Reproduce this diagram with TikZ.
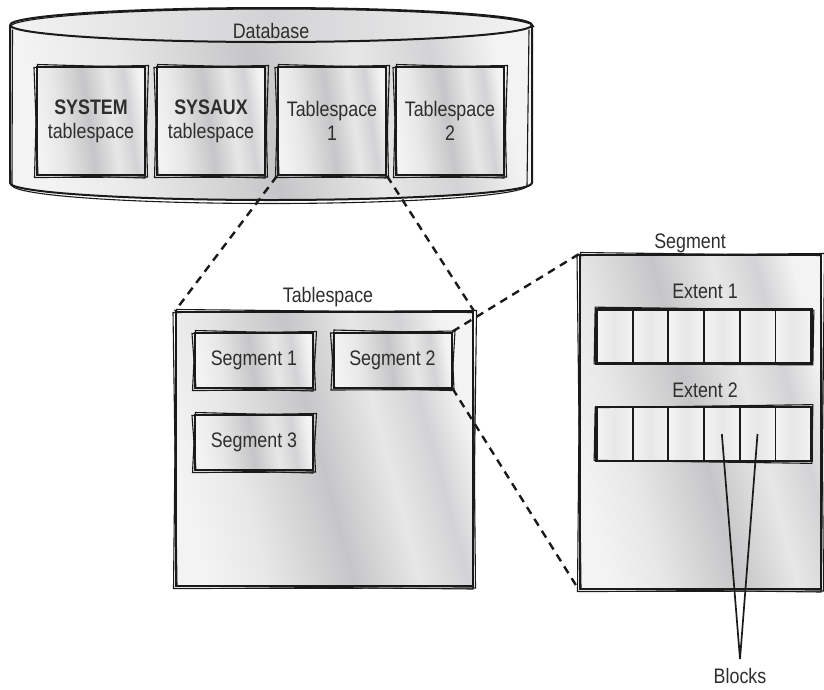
\documentclass[tikz,border=0pt]{standalone}
\usepackage{fontspec}
\setmainfont{Liberation Sans}[FakeStretch=0.85]
\usetikzlibrary{calc}

\definecolor{ink}{HTML}{1A1A1A}
\definecolor{txt}{HTML}{2E2E2E}
\definecolor{shA}{HTML}{F3F3F4}
\definecolor{shB}{HTML}{C6C6C8}
\definecolor{shC}{HTML}{E7E7E8}
\definecolor{shD}{HTML}{D3D3D5}

% brushed-metal style panel fill (TikZ maps 25bp..75bp onto the shape)
\pgfdeclarehorizontalshading{panelshade}{100bp}{%
  color(0bp)=(shA); color(25bp)=(shA); color(35bp)=(shC); color(49bp)=(shB);
  color(60bp)=(shC); color(68bp)=(shD); color(75bp)=(shA); color(100bp)=(shA)}
\pgfdeclarehorizontalshading{cellshade}{100bp}{%
  color(0bp)=(shA); color(25bp)=(shA); color(50bp)=(shC); color(75bp)=(shA); color(100bp)=(shA)}
\pgfdeclarehorizontalshading{capshade}{100bp}{%
  color(0bp)=(shA); color(25bp)=(shA); color(50bp)=(shD); color(75bp)=(shA); color(100bp)=(shA)}

\tikzset{
  txtfont/.style={font=\fontsize{21}{24}\selectfont, text=txt},
  panel/.style={draw=ink, line width=2pt, shading=panelshade, shading angle=8,
    inner sep=2pt, align=center, txtfont},
  tsbox/.style={panel, minimum width=108pt, minimum height=108pt},
  segbox/.style={panel, minimum width=118pt, minimum height=55pt},
  bigbox/.style={panel, shading angle=15},
  cell/.style={draw=ink, line width=1.7pt, shading=cellshade,
    minimum width=35.67pt, minimum height=53pt, inner sep=0pt},
  caption/.style={txtfont, anchor=base, inner sep=0pt},
  roughline/.style={draw=ink, line width=1.1pt, line cap=round},
  link/.style={draw=ink, line width=2.4pt, dash pattern=on 8pt off 6pt},
  pointer/.style={draw=ink, line width=1.7pt},
}

% second, slightly displaced pen stroke around a node
\newcommand\roughbox[1]{%
  \draw[roughline] ([shift={(-2,1.5)}]#1.north west) -- ([shift={(2.5,-0.5)}]#1.north east)
    -- ([shift={(-1,2)}]#1.south east) -- ([shift={(2,-1)}]#1.south west) -- cycle;
  \draw[roughline] ([shift={(1.5,-1.5)}]#1.north west) -- ([shift={(-1,1.5)}]#1.north east)
    -- ([shift={(1.5,1)}]#1.south east) -- ([shift={(-1.5,1.5)}]#1.south west) -- cycle;}

\begin{document}
\begin{tikzpicture}[x=1pt,y=-1pt]
\useasboundingbox (0,0) rectangle (824,689);

% ---- Database cylinder ----
\path[shading=panelshade, shading angle=12]
  (10,25) -- (10,183) arc[start angle=180, end angle=360, x radius=261pt, y radius=17pt]
  -- (532,25) arc[start angle=0, end angle=180, x radius=261pt, y radius=17pt] -- cycle;
\path[shading=capshade] (271,25) ellipse[x radius=261pt, y radius=17pt];
\draw[ink, line width=2pt, line join=round]
  (10,25) -- (10,183) arc[start angle=180, end angle=360, x radius=261pt, y radius=17pt]
  -- (532,25) arc[start angle=0, end angle=180, x radius=261pt, y radius=17pt];
\draw[ink, line width=2pt] (10,25) arc[start angle=180, end angle=360, x radius=261pt, y radius=17pt];
\draw[roughline] (12.5,30) -- (12,186);
\draw[roughline] (529,30) -- (527,186);
\draw[roughline] (12,185) arc[start angle=180, end angle=360, x radius=258pt, y radius=18.5pt];
\draw[roughline] (10,27) arc[start angle=180, end angle=0, x radius=262pt, y radius=18pt];
\node[caption] (db) at (271,38) {Database};

\node[tsbox] (sys) at (91,121)  {\textbf{SYSTEM}\\tablespace};
\node[tsbox] (aux) at (211,121) {\textbf{SYSAUX}\\tablespace};
\node[tsbox] (ts1) at (332,121) {Tablespace\\1};
\node[tsbox] (ts2) at (450,121) {Tablespace\\2};
\foreach \n in {sys,aux,ts1,ts2} {\roughbox{\n}}

% ---- Tablespace detail ----
\node[caption] (tslabel) at (328,302) {Tablespace};
\node[bigbox, minimum width=297pt, minimum height=274pt] (tsp) at (324.5,449) {};
\roughbox{tsp}
\node[segbox] (seg1) at (254,360.5) {Segment 1};
\node[segbox] (seg2) at (392.5,360) {Segment 2};
\node[segbox] (seg3) at (254,442.5) {Segment 3};
\foreach \n in {seg1,seg2,seg3} {\roughbox{\n}}

% ---- Segment detail ----
\node[caption] (seglabel) at (690,248) {Segment};
\node[bigbox, minimum width=241pt, minimum height=334pt] (segbig) at (700.5,422) {};
\roughbox{segbig}

\node[caption] (ext1label) at (705,298) {Extent 1};
\node[caption] (ext2label) at (705,397) {Extent 2};
\foreach \i in {1,...,6} {
  \node[cell] (ea\i) at ({597+35.67*(\i-0.5)},336.5) {};
  \node[cell] (eb\i) at ({597+35.67*(\i-0.5)},434) {};
}
\draw[ink, line width=2.2pt] (ea1.north west) rectangle (ea6.south east);
\draw[ink, line width=2.2pt] (eb1.north west) rectangle (eb6.south east);
\draw[roughline] ([shift={(-1,-2)}]ea1.north west) -- ([shift={(2,1)}]ea6.north east)
  -- ([shift={(1,1)}]ea6.south east) -- ([shift={(-2,0)}]ea1.south west) -- cycle;
\draw[roughline] ([shift={(-1,1)}]eb1.north west) -- ([shift={(1,-2)}]eb6.north east)
  -- ([shift={(0,2)}]eb6.south east) -- ([shift={(-2,-1)}]eb1.south west) -- cycle;

% ---- Blocks callout ----
\coordinate (apex) at (740,659);
\draw[pointer] (eb4.center) -- (apex) -- (eb5.center);
\node[caption] (blocks) at (740,683) {Blocks};

% ---- zoom connectors ----
\draw[link] (ts1.south west) -- (tsp.north west);
\draw[link] (ts1.south east) -- (tsp.north east);
\draw[link] (seg2.north east) -- (segbig.north west);
\draw[link] (seg2.south east) -- (segbig.south west);
\end{tikzpicture}
\end{document}
